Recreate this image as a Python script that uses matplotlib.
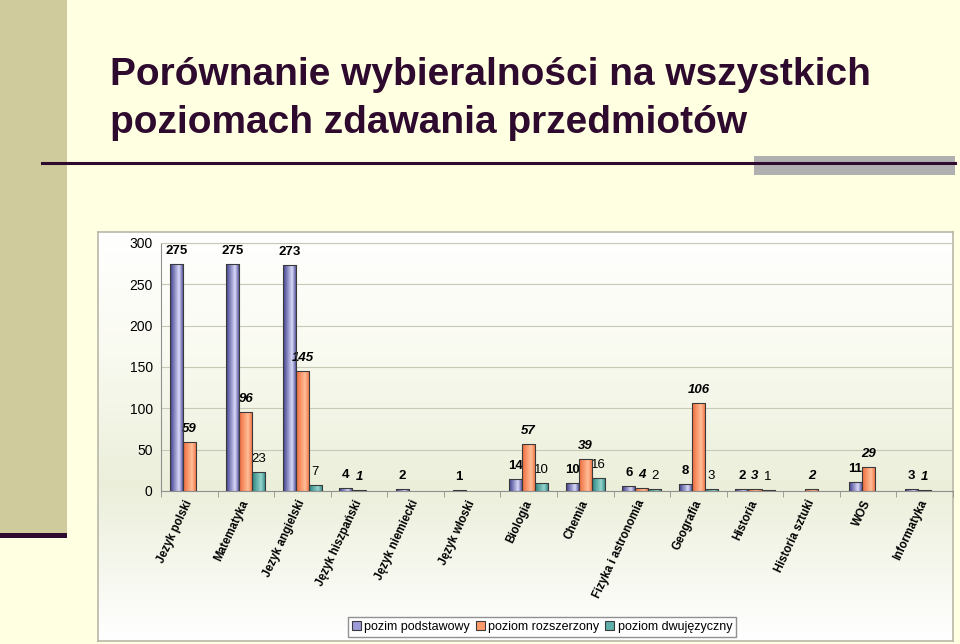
import numpy as np
import matplotlib
matplotlib.use("Agg")
import matplotlib.pyplot as plt
from matplotlib.patches import Rectangle, Patch
from matplotlib.colors import LinearSegmentedColormap


# ==========================================================================
# data
# ==========================================================================
categories = ["Jezyk polski", "Matematyka", "Jezyk angielski", "Język hiszpański",
              "Język niemiecki", "Język włoski", "Biologia", "Chemia",
              "Fizyka i astronomia", "Geografia", "Historia", "Historia sztuki",
              "WOS", "Informatyka"]
podstawowy = [275, 275, 273, 4, 2, 1, 14, 10, 6, 8, 2, 0, 11, 3]
rozszerzony = [59, 96, 145, 1, 0, 0, 57, 39, 4, 106, 3, 2, 29, 1]
dwujezyczny = [0, 23, 7, 0, 0, 0, 10, 16, 2, 3, 1, 0, 0, 0]
series_names = ["pozim podstawowy", "poziom rozszerzony", "poziom dwujęzyczny"]
title = "Porównanie wybieralności na wszystkich\npoziomach zdawania przedmiotów"

plt.rcParams['font.family'] = ['Liberation Sans', 'DejaVu Sans']

# ==========================================================================
# slide background
# ==========================================================================
fig = plt.figure(figsize=(9.6, 6.44), dpi=100)
fig.patch.set_facecolor("#FFFFE1")

fig.patches.append(Rectangle((0, 1 - 533/644), 67/960, 533/644, transform=fig.transFigure,
                             facecolor="#CFCB9C", edgecolor="none", zorder=0))
fig.patches.append(Rectangle((0, 1 - 538/644), 67/960, 5/644, transform=fig.transFigure,
                             facecolor="#2E0A2E", edgecolor="none", zorder=0))
fig.patches.append(Rectangle((754/960, 1 - 175/644), 201/960, 19/644, transform=fig.transFigure,
                             facecolor="#B0B0B0", edgecolor="none", zorder=0))
fig.lines.append(plt.Line2D([42/960, 955/960], [1 - 163/644, 1 - 163/644], transform=fig.transFigure,
                            color="#2E0A2E", lw=2.2, zorder=1))

fig.text(110/960, 1 - 57/644, title, ha="left", va="top", fontsize=28, fontweight="bold",
         color="#2E0A2E", linespacing=1.42)

# chart frame with soft gradient
bg = fig.add_axes([98/960, 1 - 641/644, 855/960, 409/644])
grad_cmap = LinearSegmentedColormap.from_list("bg", [(0, "#FFFFFF"), (0.3, "#F9FAF0"),
                                                     (0.62, "#EBEFDA"), (1.0, "#FFFFFF")])
bg.imshow(np.linspace(0, 1, 256).reshape(-1, 1), aspect="auto", cmap=grad_cmap,
          extent=[0, 1, 1, 0])
bg.set_xlim(0, 1); bg.set_ylim(1, 0)
bg.set_xticks([]); bg.set_yticks([])
for s in bg.spines.values():
    s.set_color("#B8B8A8")
    s.set_linewidth(1.2)

# ==========================================================================
# bar chart
# ==========================================================================
ax = fig.add_axes([161/960, 1 - 491/644, 792/960, 248/644])
ax.set_facecolor("none")

x = np.arange(len(categories))
w = 0.23
series = [podstawowy, rozszerzony, dwujezyczny]
offsets = [-w, 0, w]
grad_colors = [("#3C3C8C", "#D8D8F8"), ("#F06A3A", "#FFBE98"), ("#2A8480", "#96D4CC")]
legend_colors = ["#9B9BDA", "#FF9A6A", "#5FB0AA"]
label_styles = [dict(fontweight="bold"), dict(fontweight="bold", fontstyle="italic"),
                dict(fontweight="normal")]

ax.set_xlim(-0.5, len(categories) - 0.5)
ax.set_ylim(0, 300)

for vals, off, (c0, c1), st in zip(series, offsets, grad_colors, label_styles):
    cmap = LinearSegmentedColormap.from_list("b", [(0, c0), (0.65, c1), (1, c0)])
    vals_arr = np.array(vals, dtype=float)
    mask = vals_arr > 0
    bars = ax.bar(x[mask] + off, vals_arr[mask], w, facecolor="none",
                  edgecolor="#3A3A3A", linewidth=0.8, zorder=4)
    for b in bars:
        x0, y0 = b.get_x(), b.get_y()
        im = ax.imshow(np.linspace(0, 1, 64).reshape(1, -1), cmap=cmap, aspect="auto",
                       extent=[x0, x0 + b.get_width(), y0, y0 + b.get_height()], zorder=3)
        im.set_clip_path(b)
    for xi, v in zip(x[mask] + off, vals_arr[mask]):
        ax.annotate("%d" % v, (xi, v), xytext=(0, 5), textcoords="offset points",
                    ha="center", va="bottom", fontsize=9.5, **st)

ax.set_xlim(-0.5, len(categories) - 0.5)
ax.set_ylim(0, 300)
ax.set_yticks(np.arange(0, 301, 50))
ax.yaxis.grid(True, color="#C8C8B4", lw=0.8, zorder=0)
ax.set_axisbelow(True)
ax.tick_params(axis="y", length=0, labelsize=10, pad=6)

ax.set_xticks(x)
ax.set_xticklabels(categories, rotation=65, rotation_mode="anchor", ha="right", va="center",
                   fontsize=8.3, fontweight="bold")
ax.tick_params(axis="x", length=0, pad=7)
ax.set_xticks(np.arange(-0.5, len(categories), 1), minor=True)
ax.tick_params(axis="x", which="minor", length=4, color="#909090")

ax.spines["left"].set_color("#909090")
ax.spines["bottom"].set_color("#909090")
ax.spines["top"].set_color("#C8C8B4")
ax.spines["right"].set_visible(False)

handles = [Patch(facecolor=c, edgecolor="#3A3A3A", lw=0.8) for c in legend_colors]
fig.legend(handles, series_names, loc="center", bbox_to_anchor=(542/960, 1 - 627/644), ncol=3,
           fontsize=9, frameon=True, fancybox=False, edgecolor="#909090", framealpha=1,
           handlelength=0.7, handleheight=0.7, handletextpad=0.3, columnspacing=0.45,
           borderpad=0.3)

fig.savefig("out.png", dpi=100, facecolor=fig.get_facecolor())
